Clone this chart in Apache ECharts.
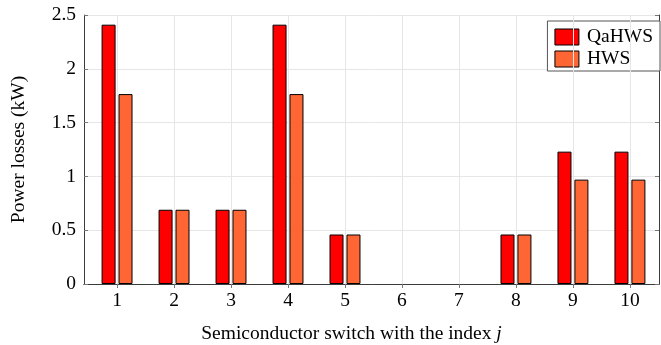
<!DOCTYPE html>
<html>
<head>
<meta charset="utf-8">
<script src="https://cdn.jsdelivr.net/npm/echarts@6/dist/echarts.min.js"></script>
<style>
  html, body { margin: 0; padding: 0; background: #fff; }
  #chart { width: 661px; height: 345px; }
</style>
</head>
<body>
<div id="chart"></div>
<script>
// Switch indices and per-switch power losses (kW)
const switchIndex = [1, 2, 3, 4, 5, 6, 7, 8, 9, 10];
const qahwsLoss = [2.41, 0.69, 0.69, 2.41, 0.46, 0, 0, 0.46, 1.23, 1.23];
const hwsLoss = [1.765, 0.69, 0.69, 1.765, 0.46, 0, 0, 0.46, 0.97, 0.97];
const yTicks = [0, 0.5, 1, 1.5, 2, 2.5];

const FONT = '"Liberation Serif", "DejaVu Serif", serif';
const FS = 19.5;
const FRAME = '#3c3c3c';
const TICK = '#777';
const GRID = '#e6e6e6';

const xMin = 0.42, xMax = 10.51;

const chart = echarts.init(document.getElementById('chart'), null, { renderer: 'canvas' });

// zero-loss switches get no outline so nothing shows on the baseline
const pairs = (ys) => switchIndex.map((x, i) => (
  ys[i] === 0
    ? { value: [x, ys[i]], itemStyle: { borderWidth: 0 } }
    : { value: [x, ys[i]] }
));

chart.setOption({
  animation: false,
  textStyle: { fontFamily: FONT },
  grid: { left: 84, right: 2, top: 15, bottom: 61, containLabel: false, outerBoundsMode: 'none' },
  legend: {
    right: 1, top: 21,
    orient: 'vertical',
    backgroundColor: '#fff',
    borderColor: '#555', borderWidth: 1, borderRadius: 0,
    padding: [6, 7, 2, 7],
    itemWidth: 24, itemHeight: 16, itemGap: 2,
    icon: 'rect',
    itemStyle: { borderWidth: 1, borderColor: '#000' },
    textStyle: { fontFamily: FONT, fontSize: FS, lineHeight: 16, color: '#000', padding: [0, 0, 0, 3] },
    data: ['QaHWS', 'HWS']
  },
  xAxis: [
    {
      type: 'value', min: xMin, max: xMax, position: 'bottom',
      name: 'Semiconductor switch with the index {i|j}',
      nameLocation: 'middle', nameGap: 40,
      nameTextStyle: {
        fontFamily: FONT, fontSize: FS, color: '#000', padding: [0, 40, 0, 0],
        rich: { i: { fontFamily: FONT, fontSize: FS, fontStyle: 'italic', color: '#000' } }
      },
      axisLine: { show: true, lineStyle: { color: FRAME, width: 1 } },
      axisTick: { show: true, inside: true, length: 4, customValues: switchIndex, lineStyle: { color: TICK } },
      axisLabel: { customValues: switchIndex, fontFamily: FONT, fontSize: FS, color: '#000', margin: 7 },
      splitLine: { show: false }
    },
    {
      type: 'value', min: xMin, max: xMax, position: 'top',
      axisLine: { show: true, lineStyle: { color: FRAME, width: 1 } },
      axisTick: { show: true, inside: true, length: 4, customValues: switchIndex, lineStyle: { color: TICK } },
      axisLabel: { show: false },
      splitLine: { show: false }
    }
  ],
  yAxis: [
    {
      type: 'value', min: 0, max: 2.5, interval: 0.5, position: 'left',
      name: 'Power losses (kW)', nameLocation: 'middle', nameGap: 55,
      nameTextStyle: { fontFamily: FONT, fontSize: FS, color: '#000' },
      axisLine: { show: true, lineStyle: { color: FRAME, width: 1 } },
      axisTick: { show: true, inside: true, length: 4, lineStyle: { color: TICK } },
      axisLabel: { fontFamily: FONT, fontSize: FS, color: '#000', margin: 8,
        customValues: yTicks },
      splitLine: { show: true, lineStyle: { color: GRID, width: 1 } }
    },
    {
      type: 'value', min: 0, max: 2.5, interval: 0.5, position: 'right',
      axisLine: { show: true, lineStyle: { color: FRAME, width: 1 } },
      axisTick: { show: true, inside: true, length: 4, lineStyle: { color: TICK } },
      axisLabel: { show: false },
      splitLine: { show: false }
    }
  ],
  series: [
    {
      // vertical grid lines at each switch index
      type: 'line', xAxisIndex: 0, yAxisIndex: 0, data: [], silent: true,
      markLine: {
        symbol: 'none', silent: true, label: { show: false },
        lineStyle: { color: GRID, width: 1, type: 'solid' },
        data: switchIndex.map((x) => ({ xAxis: x }))
      },
      z: 0
    },
    {
      name: 'QaHWS', type: 'bar', xAxisIndex: 0, yAxisIndex: 0,
      data: pairs(qahwsLoss),
      barWidth: 14, barGap: '21%',
      itemStyle: { color: '#ff0000', borderColor: '#000', borderWidth: 1 },
      z: 3
    },
    {
      name: 'HWS', type: 'bar', xAxisIndex: 0, yAxisIndex: 0,
      data: pairs(hwsLoss),
      barWidth: 14, barGap: '21%',
      itemStyle: { color: '#ff6633', borderColor: '#000', borderWidth: 1 },
      z: 3
    }
  ]
});
</script>
</body>
</html>
